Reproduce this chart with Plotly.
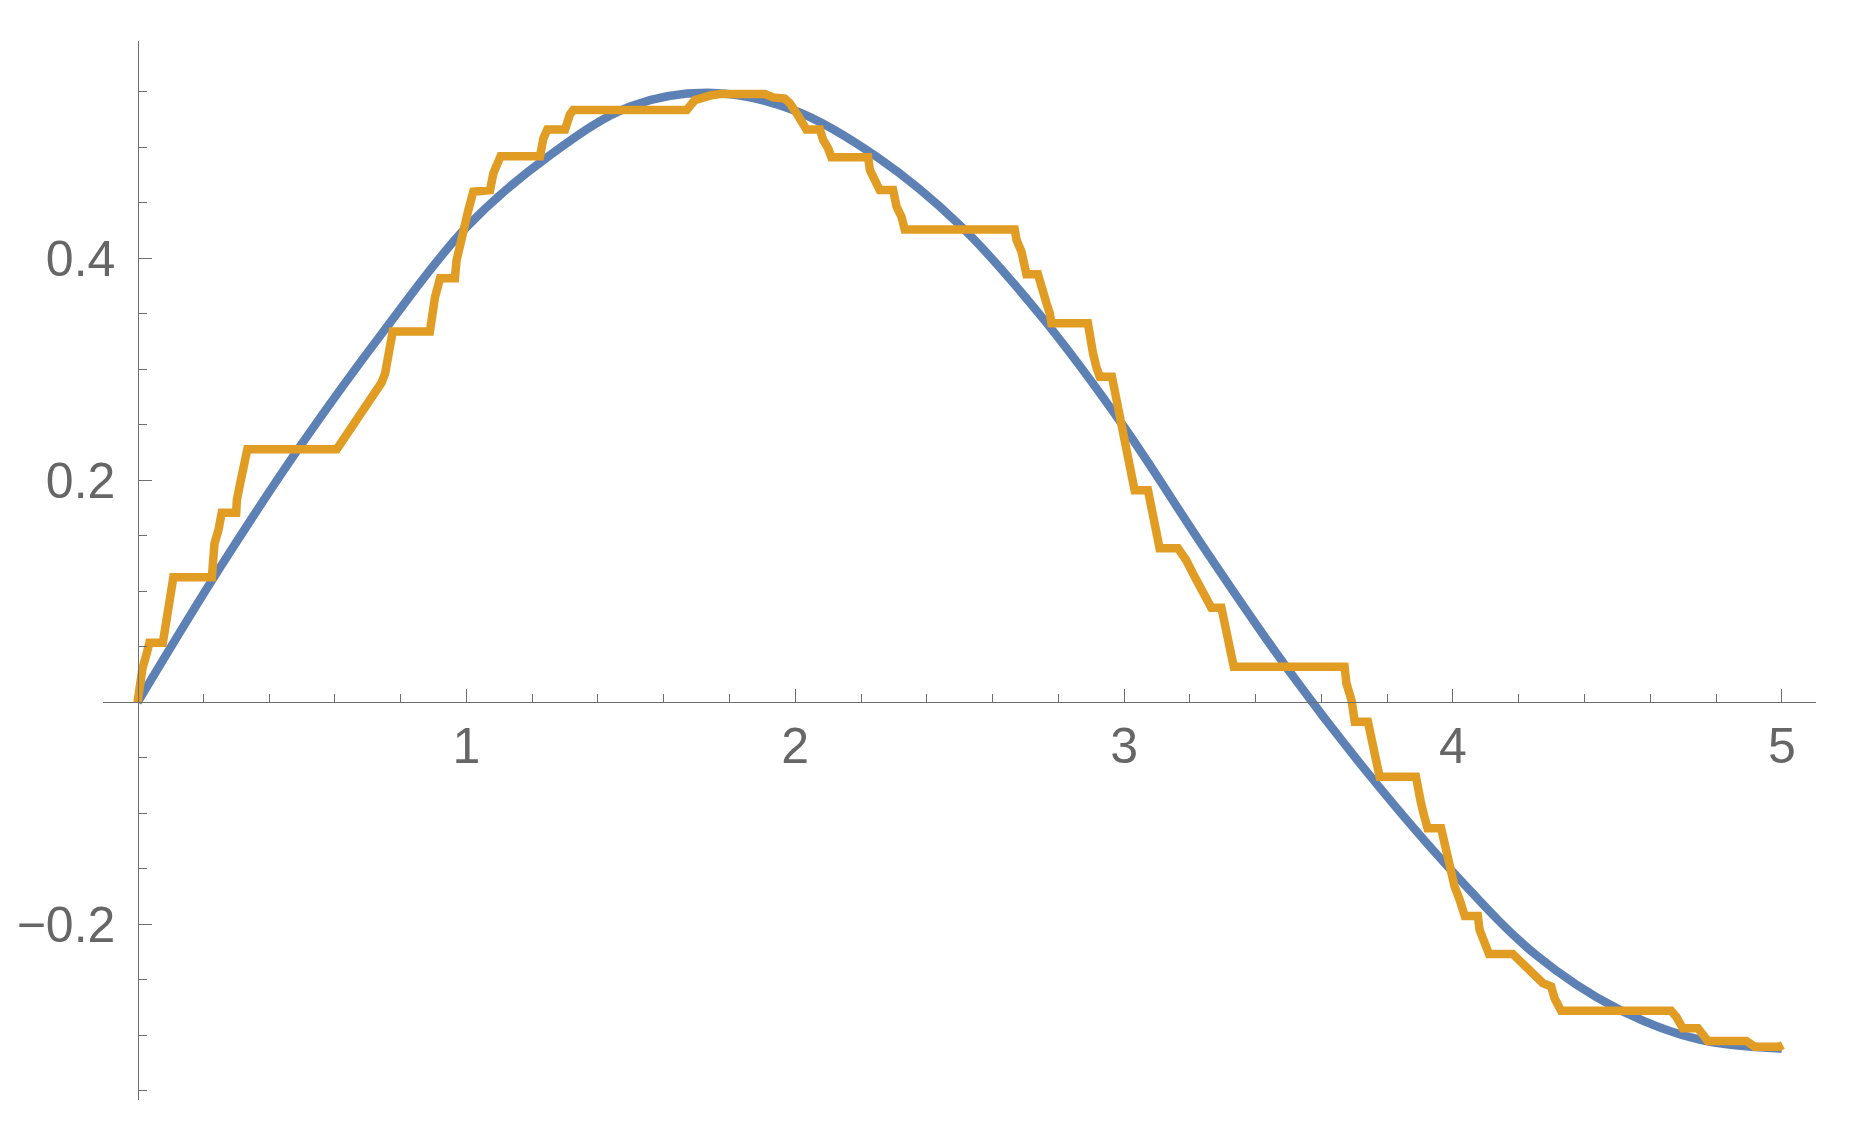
import plotly.graph_objects as go

# Smooth (blue) curve samples
blue_x = [0.0, 0.25, 0.5, 0.75, 1.0, 1.25, 1.5, 1.75, 2.0, 2.25, 2.5, 2.75, 3.0, 3.25, 3.5,
          3.75, 4.0, 4.25, 4.5, 4.75, 5.0]
blue_y = [0.0, 0.121, 0.233, 0.335, 0.428, 0.492, 0.537, 0.549, 0.533, 0.491, 0.430, 0.347,
          0.248, 0.136, 0.029, -0.067, -0.153, -0.227, -0.276, -0.304, -0.312]

# Staircase (orange) curve vertices
orange_x = [0.0, 0.006, 0.015, 0.028, 0.036, 0.077, 0.084, 0.089, 0.099, 0.109, 0.226, 0.229,
            0.234, 0.246, 0.256, 0.300, 0.302, 0.312, 0.324, 0.334, 0.606, 0.666, 0.730, 0.742,
            0.7526, 0.763, 0.776, 0.889, 0.8945, 0.9046, 0.920, 0.965, 0.970, 0.9805, 0.9957,
            1.006, 1.021, 1.072, 1.082, 1.097, 1.104, 1.224, 1.226, 1.234, 1.246, 1.300, 1.315,
            1.325, 1.670, 1.68, 1.695, 1.7456, 1.771, 1.9076, 1.933, 1.968, 1.9836, 2.004, 2.019,
            2.034, 2.075, 2.085, 2.100, 2.110, 2.2217, 2.227, 2.242, 2.257, 2.2976, 2.308, 2.323,
            2.333, 2.6675, 2.673, 2.688, 2.698, 2.703, 2.738, 2.749, 2.764, 2.774, 2.779, 2.890,
            2.8955, 2.9055, 2.9155, 2.926, 2.963, 2.976, 2.991, 3.0006, 3.011, 3.032, 3.0726,
            3.083, 3.093, 3.108, 3.164, 3.189, 3.2146, 3.240, 3.2654, 3.296, 3.306, 3.321, 3.3335,
            3.6705, 3.676, 3.6915, 3.7015, 3.7413, 3.752, 3.767, 3.777, 3.8875, 3.893, 3.903,
            3.913, 3.923, 3.964, 3.975, 3.990, 4.005, 4.0205, 4.036, 4.0757, 4.081, 4.091, 4.101,
            4.1097, 4.182, 4.2125, 4.243, 4.2733, 4.2987, 4.309, 4.329, 4.6635, 4.679, 4.699,
            4.745, 4.760, 4.775, 4.892, 4.907, 4.9175, 4.9927, 5.003]
orange_y = [0.0, 0.020, 0.0306, 0.044, 0.0537, 0.0537, 0.068, 0.083, 0.098, 0.1126, 0.1126, 0.128,
            0.143, 0.155, 0.1708, 0.1708, 0.182, 0.197, 0.215, 0.228, 0.228, 0.254, 0.283, 0.288,
            0.296, 0.311, 0.334, 0.334, 0.350, 0.365, 0.382, 0.382, 0.398, 0.4135, 0.4345,
            0.4435, 0.460, 0.4615, 0.4766, 0.4886, 0.492, 0.492, 0.499, 0.508, 0.516, 0.516, 0.5297,
            0.5336, 0.5336, 0.538, 0.5426, 0.547, 0.548, 0.548, 0.545, 0.544, 0.5396, 0.5306, 0.5246,
            0.516, 0.516, 0.5066, 0.499, 0.491, 0.491, 0.4796, 0.4705, 0.4615, 0.4615, 0.4465, 0.4375,
            0.426, 0.426, 0.4165, 0.406, 0.3955, 0.3856, 0.3856, 0.3714, 0.3595, 0.3505, 0.3414, 0.3414,
            0.3294, 0.3144, 0.3023, 0.2933, 0.2933, 0.2723, 0.2543, 0.2363, 0.2183, 0.191, 0.191,
            0.1762, 0.1642, 0.1387, 0.1387, 0.128, 0.113, 0.098, 0.0852, 0.0852, 0.068, 0.053, 0.032,
            0.032, 0.0171, 0.002, -0.0175, -0.0175, -0.034, -0.052, -0.067, -0.067, -0.079, -0.091,
            -0.103, -0.1135, -0.1135, -0.130, -0.148, -0.166, -0.178, -0.1925, -0.1925, -0.205, -0.2126, -0.220,
            -0.2268, -0.2268, -0.235, -0.244, -0.253, -0.256, -0.2667, -0.278, -0.278, -0.2832, -0.2937,
            -0.2937, -0.2997, -0.3051, -0.3051, -0.3087, -0.3103, -0.3103, -0.3087]

x_major = [1, 2, 3, 4, 5]
x_minor = [0.2, 0.4, 0.6, 0.8, 1.2, 1.4, 1.6, 1.8, 2.2, 2.4, 2.6, 2.8, 3.2, 3.4, 3.6, 3.8,
           4.2, 4.4, 4.6, 4.8]
y_major = [-0.2, 0.2, 0.4]
y_minor = [-0.35, -0.3, -0.25, -0.15, -0.1, -0.05, 0.05, 0.1, 0.15, 0.25, 0.3, 0.35, 0.45, 0.5, 0.55]

X_RANGE = [-0.105, 5.104]
Y_RANGE = [-0.3583, 0.5958]

AXIS_COLOR = "#6e6e6e"
LABEL_COLOR = "#666666"
FONT = "Liberation Sans, Arial, sans-serif"

fig = go.Figure()
fig.add_trace(go.Scatter(x=blue_x, y=blue_y, mode="lines",
                         line=dict(color="#5E81B5", width=8.5, shape="spline", smoothing=1.0),
                         hoverinfo="skip"))
fig.add_trace(go.Scatter(x=orange_x, y=orange_y, mode="lines",
                         line=dict(color="#E19C24", width=8.5),
                         hoverinfo="skip"))

x_pos = (0 - Y_RANGE[0]) / (Y_RANGE[1] - Y_RANGE[0])
y_pos = (0 - X_RANGE[0]) / (X_RANGE[1] - X_RANGE[0])

fig.update_layout(
    template="none",
    width=1849, height=1132,
    margin=dict(l=95, r=41, t=33, b=40),
    plot_bgcolor="white", paper_bgcolor="white",
    showlegend=False,
    xaxis=dict(range=X_RANGE, anchor="free", position=x_pos, automargin=False,
               showline=True, linecolor=AXIS_COLOR, linewidth=1.3,
               showgrid=False, zeroline=False,
               ticks="inside", ticklen=13, tickwidth=1.3, tickcolor=AXIS_COLOR,
               tickmode="array", tickvals=x_major,
               tickfont=dict(family=FONT, size=50, color=LABEL_COLOR),
               ticklabelstandoff=0,
               minor=dict(ticks="inside", ticklen=8, tickwidth=1.1, tickcolor=AXIS_COLOR,
                          tickmode="array", tickvals=x_minor, showgrid=False)),
    yaxis=dict(range=Y_RANGE, anchor="free", position=y_pos, automargin=False,
               showline=True, linecolor=AXIS_COLOR, linewidth=1.3,
               showgrid=False, zeroline=False,
               ticks="inside", ticklen=13, tickwidth=1.3, tickcolor=AXIS_COLOR,
               tickmode="array", tickvals=y_major,
               tickfont=dict(family=FONT, size=50, color=LABEL_COLOR),
               ticklabelstandoff=12,
               minor=dict(ticks="inside", ticklen=8, tickwidth=1.1, tickcolor=AXIS_COLOR,
                          tickmode="array", tickvals=y_minor, showgrid=False)),
)

fig.write_html("out.html")
